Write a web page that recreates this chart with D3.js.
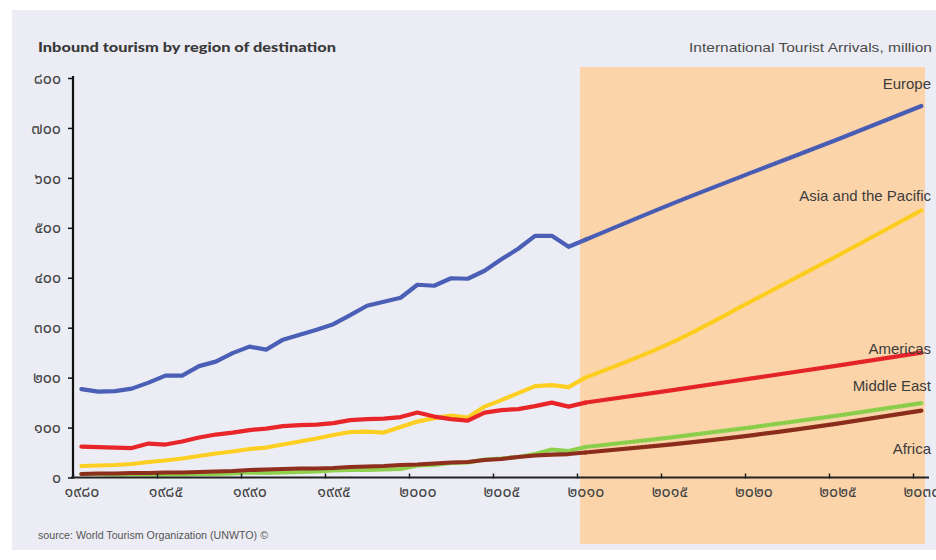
<!DOCTYPE html>
<html>
<head>
<meta charset="utf-8">
<script src="https://cdn.jsdelivr.net/npm/d3@7"></script>
<style>
  html, body { margin: 0; padding: 0; background: #ffffff; }
  svg { display: block; }
</style>
</head>
<body>
<svg id="chart" width="936" height="560"></svg>
<script>
// International tourist arrivals (million), actual 1980-2010 and forecast 2010-2030
const years = d3.range(1980, 2011);
const europe   = [177,172,173,178,190,204,204,223,232,249,262,256,276,286,296,307,325,344,352,360,386,384,399,398,414,437,458,484,484,462,476];
const asiaPac  = [23,24,25,27,31,34,38,43,48,52,57,60,66,72,78,85,91,92,90,101,112,119,124,120,142,155,169,183,185,181,200];
const americas = [62,61,60,59,68,66,72,80,86,90,95,98,103,105,106,109,115,117,118,121,130,122,117,114,130,135,137,143,150,142,150];
const midEast  = [7,7,6,6,6,6,6,7,7,8,10,9,10,11,12,14,15,15,16,17,24,25,29,30,36,38,41,47,56,53,61];
const africa   = [7,8,8,9,9,10,10,11,12,13,15,16,17,18,18,19,21,22,23,25,26,28,30,31,35,37,41,44,46,47,50];

const forecastYears    = [2010, 2015, 2020, 2025, 2030];
const europeFc   = [476, 546, 612, 677, 744];
const asiaPacFc  = [200, 268, 355, 444, 535];
const americasFc = [150, 174, 199, 224, 250];
const midEastFc  = [61, 80, 101, 124, 149];
const africaFc   = [50, 66, 85, 108, 134];

const seriesNames = ["Middle East", "Africa", "Asia and the Pacific", "Americas", "Europe"];

const yTicks = [0, 100, 200, 300, 400, 500, 600, 700, 800];
const yTickLabels = ["๐", "๑๐๐", "๒๐๐", "๓๐๐", "๔๐๐", "๕๐๐", "๖๐๐", "๗๐๐", "๘๐๐"];
const xTicks = [1980, 1985, 1990, 1995, 2000, 2005, 2010, 2015, 2020, 2025, 2030];
const xTickLabels = ["๑๙๘๐", "๑๙๘๕", "๑๙๙๐", "๑๙๙๕", "๒๐๐๐", "๒๐๐๕", "๒๐๑๐", "๒๐๑๕", "๒๐๒๐", "๒๐๒๕", "๒๐๓๐"];

const forecastStart = 2010;

// styling per region
const style = {
  "Europe":               { color: "#4a5fb5", dark: "#2c3f8f", labelDy: -22 },
  "Asia and the Pacific": { color: "#fdcf22", dark: "#e8b000", labelDy: -14 },
  "Americas":             { color: "#e8262a", dark: "#a8141a", labelDy: -4 },
  "Middle East":          { color: "#8fd14f", dark: "#5ea42a", labelDy: -17 },
  "Africa":               { color: "#8e2e1c", dark: "#5a170c", labelDy: 38 }
};

const actual = {
  "Europe": europe, "Asia and the Pacific": asiaPac, "Americas": americas,
  "Middle East": midEast, "Africa": africa
};
const forecast = {
  "Europe": europeFc, "Asia and the Pacific": asiaPacFc, "Americas": americasFc,
  "Middle East": midEastFc, "Africa": africaFc
};

const svg = d3.select("#chart");
const font = "'Liberation Sans', Arial, sans-serif";
const thaiFont = "'Noto Sans Thai', 'Noto Sans', 'DejaVu Sans', sans-serif";

// panel background
svg.append("rect").attr("x", 12).attr("y", 10).attr("width", 924).attr("height", 540)
  .attr("fill", "#ecedf4");

const x = d3.scaleLinear().domain([1980, 2030]).range([73, 913]);
const y = d3.scaleLinear().domain([0, 800]).range([477.5, 78]);
// annual values sit in the middle of their year
const xp = yr => x(yr + 0.5);
const halfYear = x(1980.5) - x(1980);

// forecast period shading
svg.append("rect")
  .attr("x", x(forecastStart) + 3)
  .attr("y", 67)
  .attr("width", x(2030) + 12 - x(forecastStart) - 3)
  .attr("height", 477)
  .attr("fill", "#fcd4aa");

// titles
svg.append("text").attr("x", 38).attr("y", 52)
  .attr("font-family", "Lato, 'Liberation Sans', sans-serif").attr("font-weight", 900)
  .attr("font-size", 13.5).attr("fill", "#3a3a3a")
  .attr("textLength", 298).attr("lengthAdjust", "spacingAndGlyphs")
  .text("Inbound tourism by region of destination");

svg.append("text").attr("x", 932).attr("y", 52).attr("text-anchor", "end")
  .attr("font-family", font).attr("font-size", 13.5).attr("fill", "#4a4a4a")
  .attr("textLength", 243).attr("lengthAdjust", "spacingAndGlyphs")
  .text("International Tourist Arrivals, million");

svg.append("text").attr("x", 38).attr("y", 539)
  .attr("font-family", font).attr("font-size", 10).attr("fill", "#555")
  .attr("textLength", 230).attr("lengthAdjust", "spacingAndGlyphs")
  .text("source: World Tourism Organization (UNWTO) ©");

// lines
const line = d3.line().x(d => xp(d[0])).y(d => y(d[1])).curve(d3.curveLinear);
const gLines = svg.append("g");

seriesNames.forEach(name => {
  const s = style[name];
  const hist = years.map((yr, i) => [yr, actual[name][i]]);
  gLines.append("path").datum(hist).attr("d", line)
    .attr("fill", "none").attr("stroke", s.color).attr("stroke-width", 4.2)
    .attr("stroke-linejoin", "round").attr("stroke-linecap", "round");
});

const fcLine = d3.line().x(d => xp(d[0])).y(d => y(d[1])).curve(d3.curveMonotoneX);
seriesNames.forEach(name => {
  const s = style[name];
  const fc = forecastYears.map((yr, i) => [yr, forecast[name][i]]);
  gLines.append("path").datum(fc).attr("d", fcLine)
    .attr("fill", "none").attr("stroke", s.color).attr("stroke-width", 4.2)
    .attr("stroke-linecap", "round");
  // stippled texture along the projected part
  gLines.append("path").datum(fc).attr("d", fcLine)
    .attr("fill", "none").attr("stroke", s.dark).attr("stroke-width", 1.4)
    .attr("stroke-dasharray", "1.5,2.5").attr("opacity", 0.35);
});

// region labels at the right end
seriesNames.forEach(name => {
  const s = style[name];
  const last = forecast[name][forecast[name].length - 1];
  svg.append("text").attr("x", 931).attr("y", y(last) + s.labelDy + 5)
    .attr("text-anchor", "end").attr("font-family", font)
    .attr("font-size", 15).attr("fill", "#3c3c3c")
    .text(name);
});

// axes
const yAxis = d3.axisLeft(y).tickValues(yTicks).tickSize(5).tickPadding(7)
  .tickFormat((d, i) => yTickLabels[i]);
const gy = svg.append("g").attr("transform", `translate(${x(1980)},0)`).call(yAxis);
gy.select(".domain").attr("stroke", "#111").attr("stroke-width", 2.2)
  .attr("d", `M0,${y(0) + 1}V${y(800) - 2}`);
gy.selectAll(".tick line").attr("stroke", "#111").attr("stroke-width", 1.5);
gy.selectAll(".tick text").attr("font-family", thaiFont)
  .attr("font-size", 16).attr("fill", "#444");

const xAxis = d3.axisBottom(x).tickValues(xTicks).tickSize(0).tickPadding(8)
  .tickFormat((d, i) => xTickLabels[i]);
const gx = svg.append("g").attr("transform", `translate(0,${y(0)})`).call(xAxis);
gx.select(".domain").attr("stroke", "#222").attr("stroke-width", 2.2)
  .attr("d", `M${x(1980) - 2},0H${x(2030) + 16}`);
gx.selectAll(".tick").append("line").attr("y1", -4).attr("y2", 1)
  .attr("stroke", "#222").attr("stroke-width", 1.5);
// year labels are centred on the year they name
gx.selectAll(".tick text").attr("font-family", thaiFont)
  .attr("font-size", 16).attr("fill", "#444").attr("dx", halfYear);
</script>
</body>
</html>
